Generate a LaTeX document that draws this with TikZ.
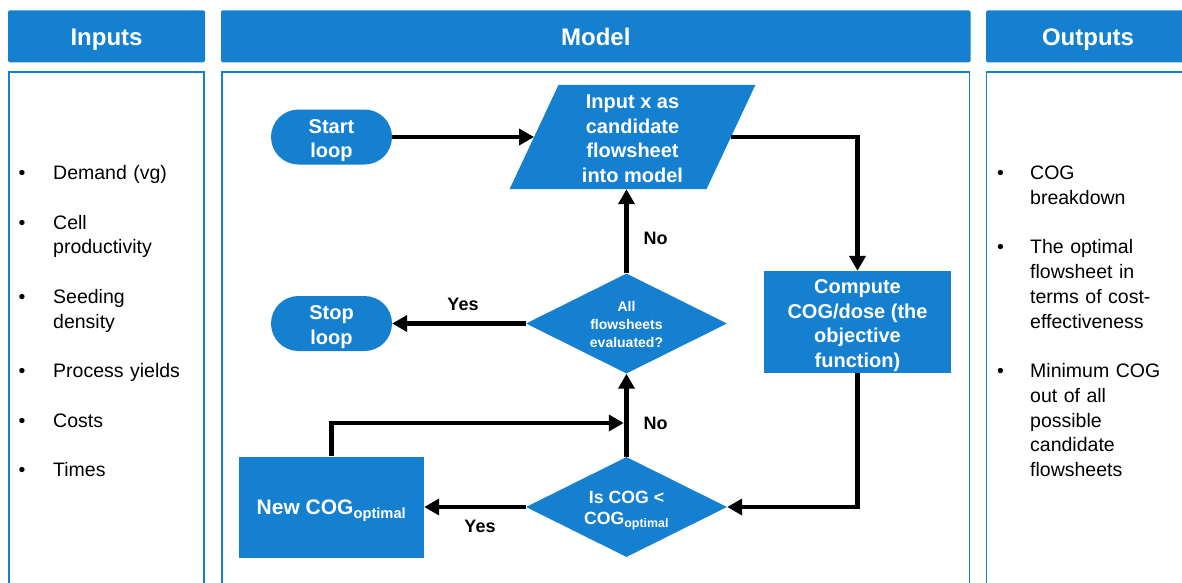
\documentclass[tikz,border=0pt]{standalone}
\usepackage{fontspec}
\setmainfont{Liberation Sans}
\usetikzlibrary{arrows.meta,shapes.geometric,shapes.misc,calc,backgrounds}
\definecolor{flowblue}{RGB}{22,128,208}
% struts: set the vertical placement of text inside the shapes
\newcommand{\topstrut}{\rule{0pt}{1.05em}}
\newcommand{\botstrut}{\rule[-0.2em]{0pt}{0pt}}
\newcommand{\hstrut}{\rule[-0.2em]{0pt}{1.2em}}
\begin{document}
\begin{tikzpicture}[x=1pt,y=-1pt,
  header/.style={fill=flowblue, rounded corners=1.5pt, text=white, inner sep=0pt,
    font=\bfseries\fontsize{24}{28}\selectfont,
    execute at begin node=\hstrut},
  panel/.style={draw=flowblue, line width=1.8pt},
  fbox/.style={fill=flowblue, text=white, inner sep=0pt, align=center,
    execute at end node=\botstrut},
  bigtxt/.style={font=\bfseries\fontsize{20}{24.6}\selectfont},
  terminal/.style={fbox, bigtxt, rounded rectangle, minimum width=121pt, minimum height=55pt},
  process/.style={fbox, bigtxt, rectangle, minimum width=187pt, minimum height=102pt},
  decision/.style={fbox, diamond, aspect=2, minimum width=201pt, minimum height=100pt},
  flow/.style={line width=4.5pt, -{Triangle[length=15pt,width=16pt]}},
  lbl/.style={inner sep=0pt, font=\bfseries\fontsize{18}{20}\selectfont},
  item/.style={anchor=base west, inner sep=0pt, text width=150pt, align=left,
    font=\fontsize{19.5}{24.75}\selectfont},
  bul/.style={anchor=base, inner sep=0pt, font=\fontsize{19.5}{24.75}\selectfont}
]
\path[use as bounding box] (0,0) rectangle (1182,582);

% column panels
\draw[panel] (9,72) rectangle (204.2,600);
\draw[panel] (222,72) rectangle (969.5,600);
\draw[panel] (986.5,72) rectangle (1200,600);

% column headers
\node[header, minimum width=197pt, minimum height=52pt] (hin) at (106.5,36.3) {Inputs};
\node[header, minimum width=749.5pt, minimum height=52pt] (hmod) at (595.75,36.3) {Model};
\node[header, minimum width=204pt, minimum height=52pt] (hout) at (1088,36.3) {Outputs};

% inputs list
\node[bul] (ib1) at (22,179.5) {•};
\node[item] (in1) at (53,179.5) {Demand (vg)};
\node[bul] (ib2) at (22,229) {•};
\node[item] (in2) at (53,229) {Cell\\productivity};
\node[bul] (ib3) at (22,303.25) {•};
\node[item] (in3) at (53,303.25) {Seeding\\density};
\node[bul] (ib4) at (22,377.5) {•};
\node[item] (in4) at (53,377.5) {Process yields};
\node[bul] (ib5) at (22,427) {•};
\node[item] (in5) at (53,427) {Costs};
\node[bul] (ib6) at (22,476.5) {•};
\node[item] (in6) at (53,476.5) {Times};

% outputs list
\node[bul] (ob1) at (1000.5,179.5) {•};
\node[item] (out1) at (1030,179.5) {COG\\breakdown};
\node[bul] (ob2) at (1000.5,253.75) {•};
\node[item] (out2) at (1030,253.75) {The optimal\\flowsheet in\\terms of cost-\\effectiveness};
\node[bul] (ob3) at (1000.5,377.5) {•};
\node[item] (out3) at (1030,377.5) {Minimum COG\\out of all\\possible\\candidate\\flowsheets};

% flowchart
\node[terminal] (start) at (331.5,137) {\topstrut Start\\loop};
\node[terminal] (stop) at (331.5,323.5) {\topstrut Stop\\loop};
\node[fbox, bigtxt, fill=none, minimum width=196.5pt, minimum height=104pt] (inp) at (632.5,137)
  {\topstrut Input x as\\candidate\\flowsheet\\into model};
\begin{scope}[on background layer]
  \fill[white] (0,0) rectangle (1182,582);
  \fill[flowblue] ($(inp.south west)+(-24.5,0)$) -- ($(inp.south east)+(-24.5,0)$)
    -- ($(inp.north east)+(24.5,0)$) -- ($(inp.north west)+(24.5,0)$) -- cycle;
\end{scope}
\node[process] (comp) at (857.5,322) {\topstrut Compute\\COG/dose (the\\objective\\function)};
\node[decision, font=\bfseries\fontsize{14}{17.7}\selectfont] (d1) at (626.5,323.5)
  {\topstrut All\\flowsheets\\evaluated?};
\node[decision, font=\bfseries\fontsize{17.7}{21}\selectfont] (d2) at (626.5,507)
  {\topstrut Is COG <\\COG\textsubscript{optimal}};
\node[fbox, minimum width=185pt, minimum height=101pt, font=\bfseries\fontsize{21}{25}\selectfont]
  (best) at (331.5,507) {\topstrut New COG\textsubscript{optimal}};

% connectors
\coordinate (merge) at (623.75,423);
\draw[flow] (start.east) -- (inp.west);
\draw[flow] (inp.east) -| (comp.north);
\draw[flow] (comp.south) |- (d2.east);
\draw[flow] (d2.north) -- (d1.south);
\draw[flow] (d1.north) -- (d1.north |- inp.south);
\draw[flow] (d1.west) -- (stop.east);
\draw[flow] (d2.west) -- (best.east);
\draw[flow] (best.north) |- (merge);

% branch labels
\node[lbl, anchor=base west] (no1) at (643.3,244) {No};
\node[lbl, anchor=base west] (no2) at (643.3,429.3) {No};
\node[lbl, anchor=base] (yes1) at (463,310.5) {Yes};
\node[lbl, anchor=base] (yes2) at (480,532.7) {Yes};
\end{tikzpicture}
\end{document}
